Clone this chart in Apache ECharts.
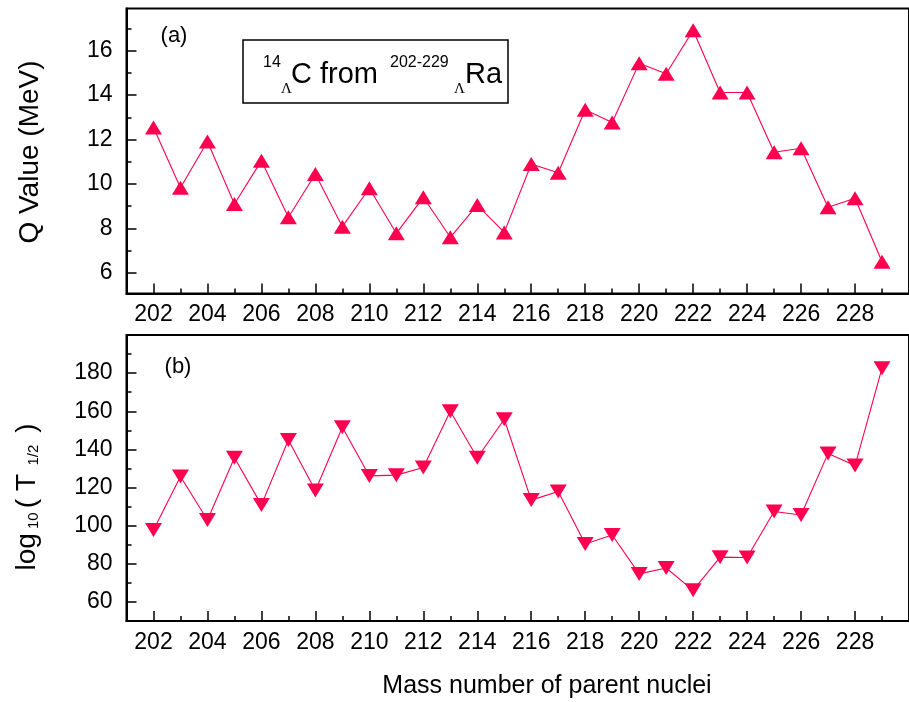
<!DOCTYPE html>
<html>
<head>
<meta charset="utf-8">
<script src="https://cdn.jsdelivr.net/npm/echarts@6/dist/echarts.min.js"></script>
<style>
  html, body { margin: 0; padding: 0; background: #fff; }
  #chart { width: 909px; height: 702px; }
</style>
</head>
<body>
<div id="chart"></div>
<script>
// mass number of the parent nucleus
const massNumbers = [202, 203, 204, 205, 206, 207, 208, 209, 210, 211, 212, 213, 214, 215,
  216, 217, 218, 219, 220, 221, 222, 223, 224, 225, 226, 227, 228, 229];
// panel (a): Q value (MeV)
const qValues = [12.54, 9.83, 11.91, 9.1, 11.05, 8.5, 10.45, 8.08, 9.81, 7.78, 9.4, 7.6, 9.05, 7.82,
  10.9, 10.51, 13.34, 12.77, 15.44, 14.96, 16.92, 14.12, 14.12, 11.43, 11.61, 8.95, 9.36, 6.5];
// panel (b): log10(T1/2)
const logT = [97.7, 125.8, 103, 135.6, 110.9, 144.9, 118.4, 151.6, 126.1, 126.5, 130.5, 160, 135.6, 155.8,
  113.4, 117.9, 90.4, 95.1, 74.7, 77.8, 66.1, 83.5, 83.3, 107.4, 105.6, 137.9, 131.5, 182.6];

// tick labels
const xMajor = [202, 204, 206, 208, 210, 212, 214, 216, 218, 220, 222, 224, 226, 228];
const xMinor = [203, 205, 207, 209, 211, 213, 215, 217, 219, 221, 223, 225, 227, 229];
const qMajor = [6, 8, 10, 12, 14, 16];
const qMinor = [7, 9, 11, 13, 15, 17];
const tMajor = [60, 80, 100, 120, 140, 160, 180];
const tMinor = [70, 90, 110, 130, 150, 170, 190];

const FONT = 'Liberation Sans, Arial, sans-serif';
const RED = '#FF0050';

const chart = echarts.init(document.getElementById('chart'));

function xAxes(grid) {
  return [
    {
      type: 'value', gridIndex: grid, min: 201, max: 230, position: 'bottom',
      axisLine: { onZero: false, lineStyle: { color: '#000', width: 2 } },
      axisTick: { inside: true, length: 10, customValues: xMajor, lineStyle: { color: '#000', width: 1.5 } },
      axisLabel: { customValues: xMajor, color: '#000', fontSize: 23, fontFamily: FONT, margin: 10 },
      splitLine: { show: false }
    },
    {
      type: 'value', gridIndex: grid, min: 201, max: 230, position: 'bottom',
      axisLine: { show: false, onZero: false },
      axisTick: { inside: true, length: 5, customValues: xMinor, lineStyle: { color: '#000', width: 1.5 } },
      axisLabel: { show: false },
      splitLine: { show: false }
    }
  ];
}

function yAxes(grid, min, max, major, minor) {
  return [
    {
      type: 'value', gridIndex: grid, min: min, max: max, position: 'left',
      axisLine: { show: true, onZero: false, lineStyle: { color: '#000', width: 2 } },
      axisTick: { show: true, inside: true, length: 10, customValues: major, lineStyle: { color: '#000', width: 1.5 } },
      axisLabel: { customValues: major, color: '#000', fontSize: 23, fontFamily: FONT, margin: 14 },
      splitLine: { show: false }
    },
    {
      type: 'value', gridIndex: grid, min: min, max: max, position: 'left',
      axisLine: { show: false, onZero: false },
      axisTick: { show: true, inside: true, length: 5, customValues: minor, lineStyle: { color: '#000', width: 1.5 } },
      axisLabel: { show: false },
      splitLine: { show: false }
    }
  ];
}

const topPts = massNumbers.map((m, i) => [m, qValues[i]]);
const botPts = massNumbers.map((m, i) => [m, logT[i]]);

chart.setOption({
  animation: false,
  backgroundColor: '#fff',
  grid: [
    { left: 126.5, top: 8.5, width: 795, height: 285, show: true, borderColor: '#000', borderWidth: 2, backgroundColor: 'transparent' },
    { left: 126.5, top: 335, width: 795, height: 286, show: true, borderColor: '#000', borderWidth: 2, backgroundColor: 'transparent' }
  ],
  xAxis: [...xAxes(0), ...xAxes(1)],
  yAxis: [...yAxes(0, 5.07, 17.9, qMajor, qMinor), ...yAxes(1, 50, 200, tMajor, tMinor)],
  series: [
    {
      type: 'line', xAxisIndex: 0, yAxisIndex: 0, data: topPts,
      symbol: 'triangle', symbolSize: [17, 14],
      itemStyle: { color: RED },
      lineStyle: { color: RED, width: 1.1 }
    },
    {
      type: 'line', xAxisIndex: 2, yAxisIndex: 2, data: botPts,
      symbol: 'triangle', symbolSize: [17, 14], symbolRotate: 180,
      itemStyle: { color: RED },
      lineStyle: { color: RED, width: 1.1 }
    }
  ],
  graphic: [
    { type: 'rect', shape: { x: 243, y: 40, width: 265, height: 63 }, style: { fill: 'none', stroke: '#000', lineWidth: 1.5 } },
    { type: 'text', x: 263, y: 63, style: { text: '14', font: '16px ' + FONT, fill: '#000', textAlign: 'left', textVerticalAlign: 'middle' } },
    { type: 'text', x: 281, y: 89, style: { text: 'Λ', font: '15px Liberation Serif, serif', fill: '#000', textAlign: 'left', textVerticalAlign: 'middle' } },
    { type: 'text', x: 291, y: 75, style: { text: 'C from', font: '29px ' + FONT, fill: '#000', textAlign: 'left', textVerticalAlign: 'middle' } },
    { type: 'text', x: 390, y: 63, style: { text: '202-229', font: '16px ' + FONT, fill: '#000', textAlign: 'left', textVerticalAlign: 'middle' } },
    { type: 'text', x: 454, y: 89, style: { text: 'Λ', font: '15px Liberation Serif, serif', fill: '#000', textAlign: 'left', textVerticalAlign: 'middle' } },
    { type: 'text', x: 465, y: 75, style: { text: 'Ra', font: '29px ' + FONT, fill: '#000', textAlign: 'left', textVerticalAlign: 'middle' } },
    { type: 'text', x: 174, y: 36, style: { text: '(a)', font: '22px ' + FONT, fill: '#000', textAlign: 'center', textVerticalAlign: 'middle' } },
    { type: 'text', x: 178, y: 367, style: { text: '(b)', font: '22px ' + FONT, fill: '#000', textAlign: 'center', textVerticalAlign: 'middle' } },
    { type: 'text', x: 30, y: 152, rotation: Math.PI / 2, style: { text: 'Q Value (MeV)', font: '28px ' + FONT, fill: '#000', textAlign: 'center', textVerticalAlign: 'middle' } },
    {
      type: 'text', x: 27, y: 497, rotation: Math.PI / 2,
      style: {
        text: '{a|log}{s| 10 }{a|( T}{s|  1/2 }{a| )}',
        fill: '#000', textAlign: 'center', textVerticalAlign: 'middle',
        rich: {
          a: { fontSize: 28, fontFamily: FONT, fill: '#000' },
          s: { fontSize: 15, fontFamily: FONT, fill: '#000', padding: [13, 0, 0, 0] }
        }
      }
    },
    { type: 'text', x: 547, y: 686, style: { text: 'Mass number of parent nuclei', font: '25px ' + FONT, fill: '#000', textAlign: 'center', textVerticalAlign: 'middle' } }
  ]
});
</script>
</body>
</html>
